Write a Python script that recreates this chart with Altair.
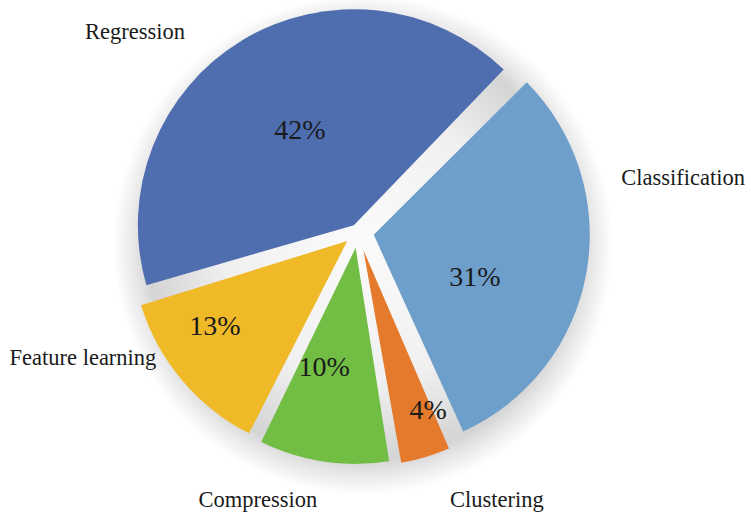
import math
import altair as alt
import pandas as pd

# ---- data (clockwise from the Regression/Classification boundary) ----
CATEGORIES = ["Classification", "Clustering", "Compression", "Feature learning", "Regression"]
VALUES = [31, 4, 10, 13, 42]

# ---- styles ----
COLORS = ["#6E9FCB", "#E57A2C", "#72BE45", "#F0B928", "#4F6EAF"]
EXPLODE = [16, 19, 16, 14, 8]            # px each slice is pulled out along its bisector
NAME_ANGLE_SHIFT = [-19.7, -10.7, 12.0, 15.5, -17.0]   # deg, name label vs. bisector
NAME_RADIUS = [329.5, 302, 286, 302.5, 299.6]
PCT_ANGLE_SHIFT = [11.2, -4.7, 5.5, 6.5, 1.2]
PCT_RADIUS = [125.7, 192.2, 140, 171.7, 116.5]

W, H = 751, 516
CX, CY = 358, 232          # pie centre (px)
R = 216                    # pie radius (px)
START = math.radians(44.5) # first slice angle
PAD = 0.02

df = pd.DataFrame({
    "category": CATEGORIES,
    "value": VALUES,
    "order": list(range(len(CATEGORIES))),
    "explode": EXPLODE,
    "nshift": NAME_ANGLE_SHIFT,
    "nr": NAME_RADIUS,
    "pshift": PCT_ANGLE_SHIFT,
    "pr": PCT_RADIUS,
})

base = (
    alt.Chart(df)
    .transform_joinaggregate(total="sum(value)")
    .transform_window(cum="sum(value)", sort=[alt.SortField("order")], frame=[None, 0])
    .transform_calculate(
        t1=f"{START} + datum.cum / datum.total * 2 * PI",
    )
    .transform_calculate(
        t0="datum.t1 - datum.value / datum.total * 2 * PI",
    )
    .transform_calculate(
        mid="(datum.t0 + datum.t1) / 2",
    )
    .transform_calculate(
        cx=f"{CX} + datum.explode * sin(datum.mid)",
        cy=f"{CY} - datum.explode * cos(datum.mid)",
        nx=f"{CX} + datum.nr * sin(datum.mid + datum.nshift * PI / 180)",
        ny=f"{CY} - datum.nr * cos(datum.mid + datum.nshift * PI / 180)",
        px=f"{CX} + datum.pr * sin(datum.mid + datum.pshift * PI / 180)",
        py=f"{CY} - datum.pr * cos(datum.mid + datum.pshift * PI / 180)",
        pct="datum.value + '%'",
    )
)

# soft shadow disc behind the pie
shadow_df = pd.DataFrame({"k": [0]})
shadow = alt.Chart(shadow_df).mark_arc(
    radius=R + 34,
    fill=alt.Gradient(
        gradient="radial",
        stops=[
            alt.GradientStop(color="#fbfbfb", offset=0),
            alt.GradientStop(color="#f0f0f0", offset=0.55),
            alt.GradientStop(color="#d4d4d4", offset=0.86),
            alt.GradientStop(color="#e8e8e8", offset=0.92),
            alt.GradientStop(color="#ffffff", offset=1),
        ],
        x1=0.5, y1=0.5, r1=0, x2=0.5, y2=0.5, r2=0.5,
    ),
).encode(
    x=alt.value(CX + 5),
    y=alt.value(CY + 13),
    theta=alt.value(0),
    theta2=alt.value(2 * math.pi),
)

slices = base.mark_arc(radius=R, padAngle=PAD, stroke=None).encode(
    x=alt.X("cx:Q", scale=None),
    y=alt.Y("cy:Q", scale=None),
    theta=alt.Theta("t0:Q", scale=None),
    theta2="t1:Q",
    color=alt.Color("category:N",
                    scale=alt.Scale(domain=CATEGORIES, range=COLORS),
                    legend=None),
)

pct = base.mark_text(font="Liberation Serif", fontSize=28, color="#1a1a1a",
                     align="center", baseline="middle").encode(
    x=alt.X("px:Q", scale=None),
    y=alt.Y("py:Q", scale=None),
    text="pct:N",
)

names = base.mark_text(font="Liberation Serif", fontSize=22.5, color="#1a1a1a",
                       align="center", baseline="middle").encode(
    x=alt.X("nx:Q", scale=None),
    y=alt.Y("ny:Q", scale=None),
    text="category:N",
)

chart = (
    alt.layer(shadow, slices, pct, names)
    .properties(width=W, height=H, padding=0,
                autosize=alt.AutoSizeParams(type="none"),
                background="white")
    .configure_view(stroke=None)
)

chart.save("out.html", embed_options={"renderer": "svg", "actions": False})
